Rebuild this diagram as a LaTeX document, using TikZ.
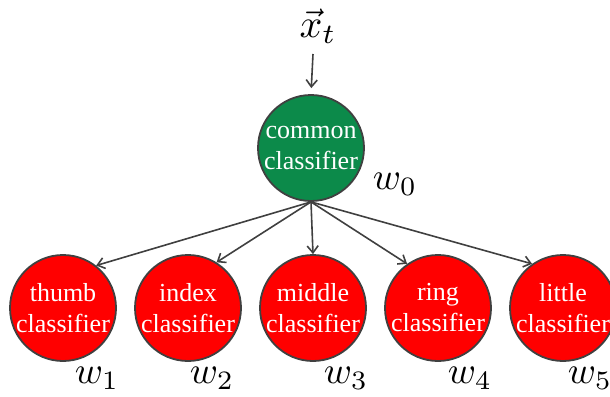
\documentclass[tikz,border=0pt]{standalone}
\usepackage{fontspec}
\setmainfont{Liberation Serif}
\usetikzlibrary{arrows.meta}
\definecolor{cgreen}{RGB}{12,138,74}
\definecolor{cgray}{RGB}{64,64,64}
\definecolor{cred}{RGB}{255,0,0}
\begin{document}
\begin{tikzpicture}[x=1pt,y=-1pt,
  clf/.style={circle, draw=cgray, line width=1.8pt, minimum size=106pt, inner sep=0pt,
    text=white, align=center, font=\fontsize{26}{31}\selectfont},
  conn/.style={draw=cgray, line width=1.6pt, -{Straight Barb[length=7pt,width=11pt,line width=1.6pt]}},
  wlab/.style={scale=3.8, inner sep=0pt}]
\useasboundingbox (0,0) rectangle (610,396);
\clip (0,0) rectangle (610,396);
\node[clf, fill=cgreen] (common) at (311,148) {common\\classifier};
\node[clf, fill=cred] (thumb) at (63,308) {thumb\\classifier};
\node[clf, fill=cred] (index) at (188,308) {index\\classifier};
\node[clf, fill=cred] (middle) at (313,308) {middle\\classifier};
\node[clf, fill=cred] (ring) at (438,308) {ring\\classifier};
\node[clf, fill=cred] (little) at (563,308) {little\\classifier};
\node[scale=4, inner sep=0pt] (xt) at (318,26) {$\vec{x}_t$};
\node[wlab] (w0) at (395,184) {$w_0$};
\node[wlab] (w1) at (97,378) {$w_1$};
\node[wlab] (w2) at (212,378) {$w_2$};
\node[wlab] (w3) at (346,378) {$w_3$};
\node[wlab] (w4) at (470,378) {$w_4$};
\node[wlab] (w5) at (590,378) {$w_5$};
\coordinate (xtop) at (313,54);
\draw[conn, shorten >=6pt] (xtop) -- (common.north);
\draw[conn] (common.south) -- (thumb.52);
\draw[conn] (common.south) -- (index.58);
\draw[conn] (common.south) -- (middle.north);
\draw[conn] (common.south) -- (ring.125);
\draw[conn] (common.south) -- (little.125);
\end{tikzpicture}
\end{document}
